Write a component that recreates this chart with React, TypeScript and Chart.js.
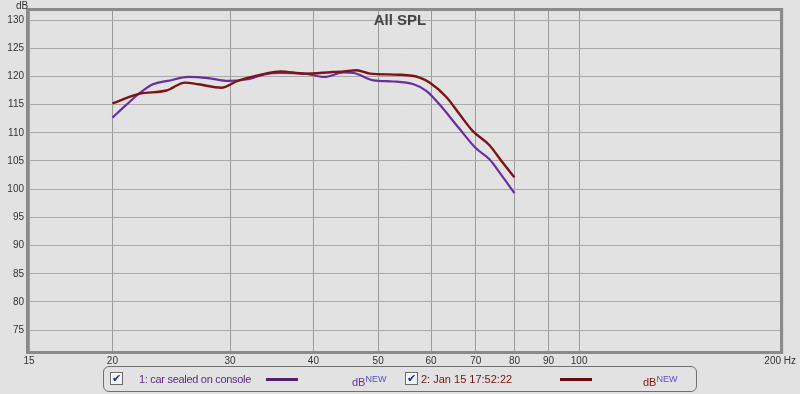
import React, { useEffect, useRef } from "react";
import { Chart, registerables } from "chart.js";

Chart.register(...registerables);

const xTickValues = [15, 20, 30, 40, 50, 60, 70, 80, 90, 100, 200];
const yTickValues = [75, 80, 85, 90, 95, 100, 105, 110, 115, 120, 125, 130];

const series1Name = "1: car sealed on console";
const series1Freq = [20, 21.0, 21.9, 23.0, 24.2, 26.0, 27.8, 29.8, 31.9, 33.9, 35.7, 38.8, 41.5, 44.4, 46.0, 49.2, 52.7, 56.5, 59.1, 61.8, 66.1, 70.0, 73.4, 76.5, 80];
const series1Db = [112.7, 115.0, 116.9, 118.6, 119.2, 119.9, 119.7, 119.2, 119.5, 120.4, 120.6, 120.5, 119.9, 120.7, 120.6, 119.3, 119.1, 118.6, 117.4, 115.0, 110.8, 107.3, 105.3, 102.5, 99.3];

const series2Name = "2: Jan 15 17:52:22";
const series2Freq = [20, 21.9, 24.1, 25.7, 26.9, 29.1, 30.8, 33.9, 35.7, 38.8, 42.4, 44.4, 46.4, 48.6, 53.8, 57.7, 59.7, 63.3, 66.0, 69.3, 73.4, 76.5, 80];
const series2Db = [115.2, 116.9, 117.5, 118.9, 118.6, 118.0, 119.2, 120.5, 120.9, 120.5, 120.75, 120.9, 121.1, 120.5, 120.3, 119.8, 118.9, 116.3, 113.5, 110.3, 107.8, 105.0, 102.1];

const FONT = '"Liberation Sans", Arial, sans-serif';
const PURPLE = "#6a2e9e";
const MAROON = "#7c1414";

const framePlugin = {
  id: "frame",
  afterDraw(chart: any) {
    const { ctx, chartArea } = chart;
    ctx.save();
    ctx.strokeStyle = "#8a8a8a";
    ctx.lineWidth = 3;
    ctx.strokeRect(chartArea.left - 1.5, chartArea.top - 1.5, chartArea.right - chartArea.left + 3, chartArea.bottom - chartArea.top + 3);
    ctx.restore();
  },
};

function Check() {
  return (
    <span
      style={{
        position: "absolute",
        width: 11,
        height: 11,
        border: "1px solid #6a6a6a",
        background: "#f2f2f2",
        boxShadow: "inset 1px 1px 0 #fff",
        fontFamily: '"DejaVu Sans", sans-serif',
        fontSize: 11,
        lineHeight: "11px",
        textAlign: "center",
        color: "#1d2f86",
        fontWeight: "bold",
      }}
    >
      ✔
    </span>
  );
}

export default function App() {
  const canvasRef = useRef<HTMLCanvasElement | null>(null);

  useEffect(() => {
    const canvas = canvasRef.current;
    if (!canvas) return;
    const chart = new Chart(canvas, {
      type: "line",
      data: {
        datasets: [
          {
            label: series1Name,
            data: series1Freq.map((f, i) => ({ x: f, y: series1Db[i] })),
            borderColor: PURPLE,
            borderWidth: 2.2,
            pointRadius: 0,
            cubicInterpolationMode: "monotone",
            fill: false,
            order: 2,
          },
          {
            label: series2Name,
            data: series2Freq.map((f, i) => ({ x: f, y: series2Db[i] })),
            borderColor: MAROON,
            borderWidth: 2.4,
            pointRadius: 0,
            cubicInterpolationMode: "monotone",
            fill: false,
            order: 1,
          },
        ],
      },
      options: {
        animation: false,
        responsive: false,
        maintainAspectRatio: false,
        layout: { padding: { top: 10, right: 14, left: 0, bottom: 0 } },
        plugins: {
          legend: { display: false },
          tooltip: { enabled: false },
          title: { display: false },
        },
        scales: {
          x: {
            type: "logarithmic",
            min: 15,
            max: 200,
            afterBuildTicks: (scale: any) => {
              scale.ticks = xTickValues.map((v) => ({ value: v }));
            },
            afterFit: (scale: any) => {
              scale.height = 43;
            },
            ticks: {
              autoSkip: false,
              maxRotation: 0,
              padding: 4,
              color: "#333",
              font: { family: FONT, size: 10 },
              callback: (v: any) => (Number(v) === 200 ? "200 Hz" : String(v)),
            },
            grid: { color: "#9a9a9a", lineWidth: 1, drawTicks: false },
            border: { display: false },
          },
          y: {
            type: "linear",
            min: 71.3,
            max: 131.6,
            afterBuildTicks: (scale: any) => {
              scale.ticks = yTickValues.map((v) => ({ value: v }));
            },
            afterFit: (scale: any) => {
              scale.width = 29;
            },
            ticks: {
              padding: 5,
              color: "#333",
              font: { family: FONT, size: 10 },
            },
            grid: { color: "#a8a8a8", lineWidth: 1, drawTicks: false },
            border: { display: false },
          },
        },
      },
      plugins: [framePlugin],
    } as any);
    return () => chart.destroy();
  }, []);

  const legendText: React.CSSProperties = {
    position: "absolute",
    top: 372,
    fontFamily: FONT,
    fontSize: 11,
    lineHeight: "14px",
    whiteSpace: "nowrap",
  };

  return (
    <div
      style={{
        position: "fixed",
        left: 0,
        top: 0,
        width: 800,
        height: 394,
        background: "#e2e2e2",
        overflow: "hidden",
      }}
    >
      <canvas ref={canvasRef} width={800} height={394} style={{ position: "absolute", left: 0, top: 0, width: 800, height: 394 }} />
      <div style={{ position: "absolute", left: 16, top: 0, fontFamily: FONT, fontSize: 10, color: "#333" }}>dB</div>
      <div
        style={{
          position: "absolute",
          left: 340,
          width: 120,
          top: 11,
          textAlign: "center",
          fontFamily: FONT,
          fontSize: 15,
          fontWeight: "bold",
          color: "#444",
        }}
      >
        All SPL
      </div>
      <div
        style={{
          position: "absolute",
          left: 103,
          top: 366,
          width: 594,
          height: 26,
          border: "1px solid #707070",
          borderRadius: 6,
          boxSizing: "border-box",
        }}
      />
      <div style={{ position: "absolute", left: 110, top: 372 }}>
        <Check />
      </div>
      <div style={{ ...legendText, left: 139, color: "#5a2a8a", letterSpacing: "-0.3px" }}>{series1Name}</div>
      <div style={{ position: "absolute", left: 266, top: 378, width: 32, height: 3, background: "#52206e" }} />
      <div style={{ ...legendText, left: 352, color: "#6a2e9e" }}>
        dB<sup style={{ fontSize: 9, color: "#5a50c8", verticalAlign: "4px" }}>NEW</sup>
      </div>
      <div style={{ position: "absolute", left: 405, top: 372 }}>
        <Check />
      </div>
      <div style={{ ...legendText, left: 421, color: "#7a1010" }}>{series2Name}</div>
      <div style={{ position: "absolute", left: 560, top: 378, width: 32, height: 3, background: "#6a0c0c" }} />
      <div style={{ ...legendText, left: 643, color: "#8a1010" }}>
        dB<sup style={{ fontSize: 9, color: "#5a50c8", verticalAlign: "4px" }}>NEW</sup>
      </div>
    </div>
  );
}
